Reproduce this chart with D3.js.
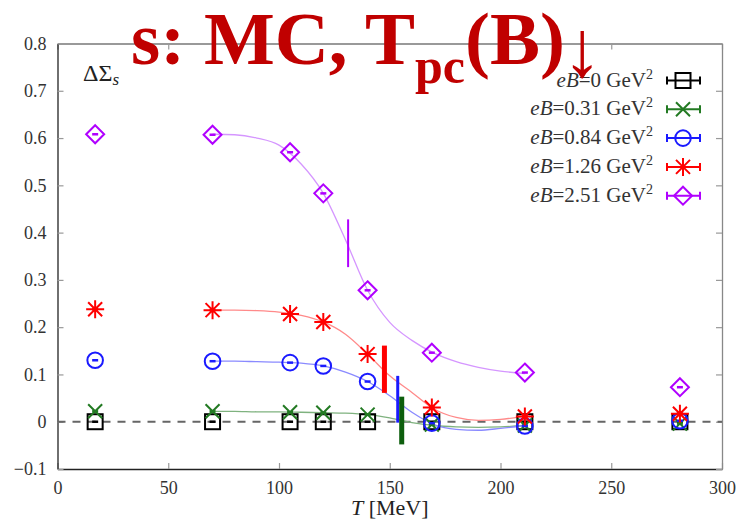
<!DOCTYPE html>
<html><head><meta charset="utf-8">
<script src="https://cdn.jsdelivr.net/npm/d3@7"></script>
<style>
html,body{margin:0;padding:0;background:#fff;}
svg{display:block;}
</style>
</head><body>
<svg id="chart" width="738" height="529"></svg>
<script>
// ---------- data ----------
const temps = [17, 70, 105, 120, 140, 169, 211, 281];
const seriesNames = ["0", "0.31", "0.84", "1.26", "2.51"];
const valsEB0   = [0.000, 0.000, 0.000, 0.000, 0.000, 0.000, 0.000, 0.000];
const valsEB031 = [0.022, 0.022, 0.020, 0.019, 0.015, -0.006, -0.008, -0.004];
const valsEB084 = [0.130, 0.128, 0.125, 0.118, 0.085, -0.003, -0.009, 0.002];
const valsEB126 = [0.238, 0.236, 0.228, 0.211, 0.143, 0.030, 0.011, 0.017];
const valsEB251 = [0.608, 0.607, 0.570, 0.483, 0.278, 0.146, 0.104, 0.073];

// fit curves
const fitT = [70, 80, 90, 100, 110, 120, 130, 140, 150, 160, 170, 180, 190, 200, 211];
const fitEB031 = [0.022, 0.022, 0.021, 0.021, 0.020, 0.019, 0.018, 0.015, 0.008, -0.002, -0.008, -0.011, -0.012, -0.011, -0.008];
const fitEB084 = [0.128, 0.128, 0.127, 0.126, 0.124, 0.118, 0.105, 0.085, 0.055, 0.020, -0.006, -0.016, -0.018, -0.014, -0.008];
const fitEB126 = [0.236, 0.236, 0.235, 0.232, 0.225, 0.211, 0.185, 0.143, 0.097, 0.062, 0.027, 0.009, 0.003, 0.005, 0.012];
const fitEB251 = [0.608, 0.607, 0.600, 0.585, 0.545, 0.483, 0.385, 0.278, 0.210, 0.172, 0.145, 0.127, 0.115, 0.107, 0.102];

// pseudo-critical temperature bars: T, low, high
const tpcT    = [131.2, 147.6, 153.6, 155.4];
const tpcLow  = [0.327, 0.061, -0.002, -0.048];
const tpcHigh = [0.428, 0.161, 0.097, 0.053];

const xTicks = [0, 50, 100, 150, 200, 250, 300];
const yTicks = [-0.1, 0, 0.1, 0.2, 0.3, 0.4, 0.5, 0.6, 0.7, 0.8];
const yTickLabels = ["\u22120.1", "0", "0.1", "0.2", "0.3", "0.4", "0.5", "0.6", "0.7", "0.8"];

// ---------- setup ----------
const svg = d3.select("#chart");
const x = d3.scaleLinear().domain([0, 300]).range([57.5, 722]);
const y = d3.scaleLinear().domain([-0.1, 0.8]).range([469, 43.5]);
const serif = "'Liberation Serif', 'DejaVu Serif', serif";

const colors = ["#000000", "#237a23", "#1a1aff", "#ff0000", "#b000ff"];
const curveColors = ["none", "#7fb27f", "#8a8aff", "#ff8a8a", "#d596ff"];
const tpcColors = ["#b000ff", "#ff0000", "#1a1aff", "#0d5e0d"];
const tpcWidths = [2, 5, 3, 5];
const shapes = ["square", "x", "circle", "asterisk", "diamond"];
const allVals = [valsEB0, valsEB031, valsEB084, valsEB126, valsEB251];
const allFits = [null, fitEB031, fitEB084, fitEB126, fitEB251];

// ---------- axes ----------
const xAxisB = d3.axisBottom(x).tickValues(xTicks).tickSizeInner(-6).tickSizeOuter(0).tickPadding(12);
const xAxisT = d3.axisTop(x).tickValues(xTicks).tickSizeInner(-6).tickSizeOuter(0).tickFormat("");
const yAxisL = d3.axisLeft(y).tickValues(yTicks).tickSizeInner(-6).tickSizeOuter(0).tickPadding(11)
  .tickFormat((d, i) => yTickLabels[i]);
const yAxisR = d3.axisRight(y).tickValues(yTicks).tickSizeInner(-6).tickSizeOuter(0).tickFormat("");

function styleAxis(g, domainColor) {
  g.attr("font-family", serif);
  g.select(".domain").attr("stroke", domainColor).attr("stroke-width", 1.3);
  g.selectAll(".tick line").attr("stroke", "#999").attr("stroke-width", 1.2);
  g.selectAll(".tick text").attr("font-family", serif).attr("font-size", 18).attr("fill", "#333");
}
svg.append("g").attr("transform", `translate(0,${y(-0.1)})`).call(xAxisB).call(g => styleAxis(g, "#222"));
svg.append("g").attr("transform", `translate(0,${y(0.8)})`).call(xAxisT).call(g => styleAxis(g, "#777"));
svg.append("g").attr("transform", `translate(${x(0)},0)`).call(yAxisL).call(g => styleAxis(g, "#222"));
svg.append("g").attr("transform", `translate(${x(300)},0)`).call(yAxisR).call(g => styleAxis(g, "#888"));

// zero line
svg.append("line")
  .attr("x1", x(0)).attr("x2", x(300)).attr("y1", y(0)).attr("y2", y(0))
  .attr("stroke", "#666").attr("stroke-width", 2).attr("stroke-dasharray", "8,7");

// axis labels
svg.append("text").attr("x", (x(0) + x(300)) / 2).attr("y", 515).attr("text-anchor", "middle")
  .attr("font-family", serif).attr("font-size", 22).attr("fill", "#222")
  .call(t => {
    t.append("tspan").attr("font-style", "italic").text("T");
    t.append("tspan").text(" [MeV]");
  });
svg.append("text").attr("x", 83).attr("y", 81)
  .attr("font-family", serif).attr("font-size", 24).attr("fill", "#222")
  .call(t => {
    t.append("tspan").text("\u0394\u03A3");
    t.append("tspan").attr("font-style", "italic").attr("font-size", 17).attr("dy", 4).text("s");
  });

// ---------- marker drawing ----------
function drawMarker(g, shape, color, withDash) {
  const sw = 2;
  if (shape === "square") {
    g.append("rect").attr("x", -7.5).attr("y", -7.5).attr("width", 15).attr("height", 15)
      .attr("fill", "none").attr("stroke", color).attr("stroke-width", sw);
  } else if (shape === "circle") {
    g.append("circle").attr("r", 7.8).attr("fill", "none").attr("stroke", color).attr("stroke-width", sw);
  } else if (shape === "diamond") {
    g.append("path").attr("d", "M0,-9L9,0L0,9L-9,0Z").attr("fill", "none").attr("stroke", color).attr("stroke-width", sw);
  } else if (shape === "x") {
    g.append("path").attr("d", "M-7,-7L7,7M-7,7L7,-7").attr("stroke", color).attr("stroke-width", sw);
  } else if (shape === "asterisk") {
    g.append("path").attr("d", "M-7,-7L7,7M-7,7L7,-7M0,-9L0,9M-9,0L9,0").attr("stroke", color).attr("stroke-width", sw);
  }
  if (withDash) {
    g.append("line").attr("x1", -3).attr("x2", 3).attr("y1", 0).attr("y2", 0)
      .attr("stroke", color).attr("stroke-width", 2.5);
  }
}

// ---------- fit curves ----------
const line = d3.line().x(d => x(d[0])).y(d => y(d[1])).curve(d3.curveMonotoneX);
allFits.forEach((f, i) => {
  if (!f) return;
  svg.append("path").datum(fitT.map((t, k) => [t, f[k]]))
    .attr("d", line).attr("fill", "none").attr("stroke", curveColors[i]).attr("stroke-width", 1.3);
});

// ---------- data points ----------
allVals.forEach((vals, i) => {
  const g = svg.append("g");
  temps.forEach((t, k) => {
    const m = g.append("g").attr("transform", `translate(${x(t)},${y(vals[k])})`);
    drawMarker(m, shapes[i], colors[i], true);
  });
});

// ---------- Tpc bars ----------
tpcT.forEach((t, i) => {
  svg.append("line").attr("x1", x(t)).attr("x2", x(t)).attr("y1", y(tpcLow[i])).attr("y2", y(tpcHigh[i]))
    .attr("stroke", tpcColors[i]).attr("stroke-width", tpcWidths[i]);
});

// ---------- legend ----------
const legX = 653, legY0 = 86.5, legDy = 28.8;
seriesNames.forEach((nm, i) => {
  const yy = legY0 + i * legDy;
  svg.append("text").attr("x", legX).attr("y", yy).attr("text-anchor", "end")
    .attr("font-family", serif).attr("font-size", 21).attr("fill", "#333")
    .call(t => {
      t.append("tspan").attr("font-style", "italic").text("eB");
      t.append("tspan").text("=" + nm + " GeV");
      t.append("tspan").attr("font-size", 14).attr("dy", -8).text("2");
    });
  const cy = yy - 6;
  const lg = svg.append("g").attr("transform", `translate(683,${cy})`);
  lg.append("path").attr("d", "M-16,0L17,0M-16,-4L-16,4M17,-4L17,4")
    .attr("stroke", colors[i]).attr("stroke-width", 2).attr("fill", "none");
  drawMarker(lg, shapes[i], colors[i], false);
});

// ---------- title overlay ----------
const title = svg.append("text").attr("x", 131).attr("y", 64)
  .attr("font-family", "'Liberation Serif', 'Times New Roman', serif").attr("font-weight", "bold")
  .attr("font-size", 75).attr("fill", "#c00000");
title.append("tspan").text("s: MC, T");
title.append("tspan").attr("font-size", 50).attr("dy", 19).text("pc");
title.append("tspan").attr("dy", -19).text("(B)");
svg.append("text").attr("x", 582).attr("y", 76).attr("text-anchor", "middle")
  .attr("font-family", "'Liberation Serif', 'DejaVu Serif', serif").attr("font-weight", "bold")
  .attr("font-size", 80).attr("fill", "#c00000").text("\u2193");
</script>
</body></html>
